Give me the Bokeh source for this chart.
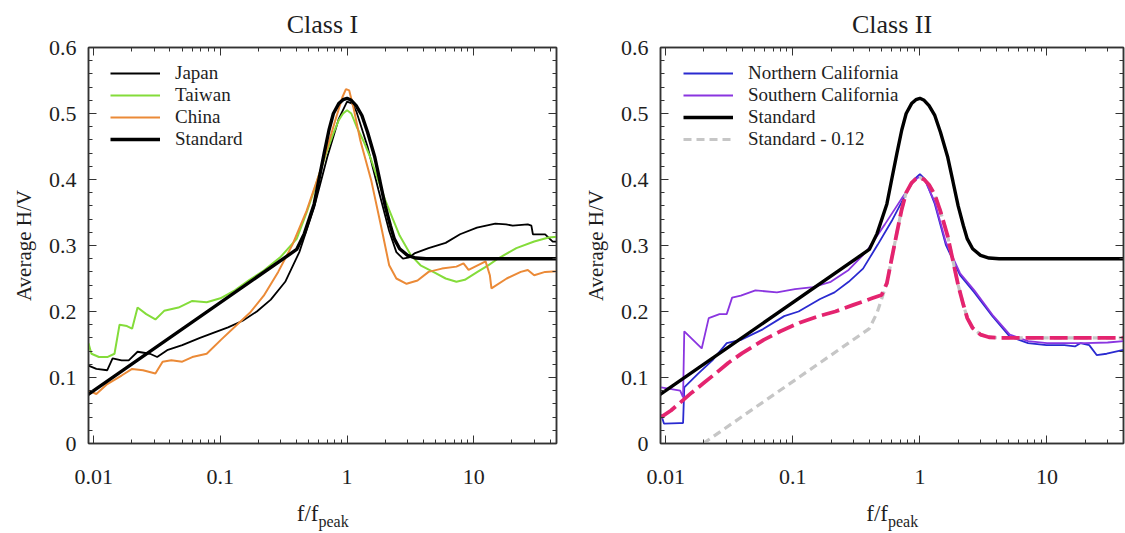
from bokeh.plotting import figure
from bokeh.models import (FixedTicker, CustomJSTickFormatter, LogAxis, LinearAxis,
                          Legend, LegendItem, Range1d, Label)
from bokeh.layouts import row, column
from bokeh.embed import file_html
from bokeh.resources import INLINE

# ---------------- data ----------------
titles = ["Class I", "Class II"]
x_ticks = [0.01, 0.1, 1, 10]
y_ticks = [0, 0.1, 0.2, 0.3, 0.4, 0.5, 0.6]

std_x = [0.009, 0.4, 0.46, 0.55, 0.6, 0.66, 0.72, 0.78, 0.86, 0.93, 1.0, 1.08, 1.18,
         1.31, 1.45, 1.65, 1.82, 2.0, 2.2, 2.36, 2.6, 3.0, 3.5, 4.2, 100]
std_y = [0.074, 0.294, 0.318, 0.363, 0.4, 0.44, 0.475, 0.5, 0.515, 0.521, 0.523, 0.52, 0.512,
         0.497, 0.472, 0.435, 0.397, 0.36, 0.33, 0.31, 0.295, 0.285, 0.281, 0.28, 0.28]

japan_x = [0.0091, 0.0105, 0.0128, 0.0141, 0.0166, 0.0189, 0.0222, 0.0278, 0.0317, 0.0385,
           0.05, 0.069, 0.089, 0.115, 0.15, 0.194, 0.25, 0.325, 0.42, 0.55, 0.7, 0.86, 1.0,
           1.1, 1.19, 1.45, 1.77, 2.15, 2.45, 2.76, 3.1, 3.4, 4.4, 6.0, 7.8, 10.6, 14.8, 18,
           20.3, 26.7, 28.5, 29.3, 36.6, 42, 100]
japan_y = [0.118, 0.113, 0.111, 0.129, 0.126, 0.126, 0.139, 0.136, 0.131, 0.142,
           0.149, 0.16, 0.168, 0.176, 0.186, 0.2, 0.218, 0.245, 0.29, 0.358, 0.435, 0.492, 0.518,
           0.515, 0.502, 0.45, 0.384, 0.322, 0.29, 0.28, 0.282, 0.288, 0.296, 0.304, 0.317, 0.327,
           0.333, 0.332, 0.33, 0.332, 0.33, 0.317, 0.317, 0.306, 0.303]

taiwan_x = [0.0091, 0.0096, 0.011, 0.0128, 0.0146, 0.016, 0.0183, 0.0201, 0.0222, 0.026,
            0.0307, 0.036, 0.0467, 0.06, 0.078, 0.1, 0.13, 0.17, 0.22, 0.3, 0.4, 0.48, 0.55,
            0.62, 0.7, 0.78, 0.86, 0.93, 1.0, 1.08, 1.19, 1.35, 1.55, 1.75, 1.99, 2.3, 2.6,
            3.2, 3.8, 5.0, 6.0, 7.3, 8.5, 10.7, 13, 15.8, 21.7, 30, 39, 100]
taiwan_y = [0.152, 0.136, 0.131, 0.131, 0.136, 0.18, 0.178, 0.174, 0.206, 0.196,
            0.188, 0.201, 0.206, 0.216, 0.214, 0.22, 0.232, 0.248, 0.262, 0.283, 0.31, 0.35,
            0.384, 0.415, 0.445, 0.47, 0.49, 0.5, 0.505, 0.5, 0.48, 0.458, 0.43, 0.4, 0.37,
            0.34, 0.315, 0.285, 0.27, 0.258, 0.25, 0.245, 0.248, 0.26, 0.27, 0.281, 0.296,
            0.306, 0.312, 0.32]

china_x = [0.0091, 0.0105, 0.0128, 0.0166, 0.0201, 0.0245, 0.0307, 0.035, 0.041, 0.05,
           0.06, 0.078, 0.101, 0.132, 0.171, 0.22, 0.286, 0.37, 0.48, 0.62, 0.8, 0.92, 0.98,
           1.04, 1.12, 1.27, 1.55, 1.89, 2.15, 2.45, 2.95, 3.6, 4.4, 5.6, 7.3, 8.3, 9.1, 12.4,
           13.4, 13.8, 18.2, 23.5, 26.7, 30, 36.6, 100]
china_y = [0.08, 0.075, 0.09, 0.103, 0.113, 0.111, 0.106, 0.124, 0.126, 0.124,
           0.131, 0.136, 0.157, 0.178, 0.198, 0.224, 0.26, 0.301, 0.353, 0.415, 0.487, 0.525,
           0.537, 0.535, 0.51, 0.46, 0.399, 0.322, 0.27, 0.25, 0.242, 0.247, 0.26, 0.265,
           0.268, 0.273, 0.263, 0.276, 0.255, 0.235, 0.25, 0.26, 0.263, 0.255, 0.26, 0.265]

ncal_x = [0.0092, 0.0097, 0.0128, 0.0137, 0.014, 0.018, 0.0233, 0.0302, 0.039, 0.058,
          0.0855, 0.111, 0.164, 0.213, 0.275, 0.357, 0.465, 0.6, 0.78, 0.9, 1.0, 1.1, 1.31,
          1.6, 2.07, 2.68, 3.72, 5.1, 7.1, 9.9, 13.7, 16.6, 18.3, 21.5, 24.6, 29.5, 40, 100]
ncal_y = [0.044, 0.03, 0.031, 0.031, 0.085, 0.106, 0.126, 0.152, 0.157, 0.173,
          0.193, 0.2, 0.219, 0.229, 0.245, 0.265, 0.301, 0.337, 0.379, 0.4, 0.408, 0.4, 0.363,
          0.301, 0.255, 0.229, 0.193, 0.162, 0.152, 0.149, 0.149, 0.147, 0.152, 0.149, 0.134,
          0.136, 0.142, 0.145]

scal_x = [0.0092, 0.013, 0.0137, 0.014, 0.0192, 0.0218, 0.0265, 0.0302, 0.0333, 0.039,
          0.0508, 0.075, 0.104, 0.144, 0.199, 0.275, 0.38, 0.53, 0.73, 0.9, 1.0, 1.1, 1.31,
          1.6, 2.07, 2.68, 3.72, 5.1, 7.1, 10, 20, 30, 40, 100]
scal_y = [0.085, 0.08, 0.07, 0.17, 0.144, 0.19, 0.196, 0.196, 0.221, 0.224,
          0.232, 0.229, 0.234, 0.237, 0.245, 0.263, 0.291, 0.332, 0.373, 0.398, 0.405, 0.398,
          0.366, 0.305, 0.258, 0.232, 0.195, 0.165, 0.155, 0.152, 0.152, 0.153, 0.155, 0.156]

std012_x = [0.0197, 0.4, 0.46, 0.55, 0.6, 0.66, 0.72, 0.78, 0.86, 0.93, 1.0, 1.08, 1.18,
            1.31, 1.45, 1.65, 1.82, 2.0, 2.2, 2.36, 2.6, 3.0, 3.5, 4.2, 100]
std012_y = [0.0, 0.174, 0.198, 0.243, 0.28, 0.32, 0.355, 0.38, 0.395, 0.401, 0.403, 0.4, 0.392,
            0.377, 0.352, 0.315, 0.277, 0.24, 0.21, 0.19, 0.175, 0.165, 0.161, 0.16, 0.16]

fit_x = [0.0092, 0.011, 0.013, 0.016, 0.02, 0.025, 0.031, 0.04, 0.059, 0.08, 0.113, 0.16,
         0.216, 0.3, 0.42, 0.5, 0.55, 0.6, 0.66, 0.72, 0.78, 0.86, 0.93, 1.0, 1.08, 1.18,
         1.31, 1.45, 1.65, 1.82, 2.0, 2.2, 2.36, 2.6, 3.0, 3.5, 4.2, 100]
fit_y = [0.04, 0.05, 0.062, 0.077, 0.092, 0.107, 0.122, 0.137, 0.157, 0.17, 0.183, 0.193,
         0.2, 0.21, 0.22, 0.225, 0.243, 0.28, 0.32, 0.355, 0.38, 0.395, 0.401, 0.403, 0.4, 0.392,
         0.377, 0.352, 0.315, 0.277, 0.24, 0.21, 0.19, 0.175, 0.165, 0.161, 0.16, 0.16]

# ---------------- styling ----------------
FONT = "Liberation Serif"
TXT = "#1e1e1e"
AX = "#333333"
TOP_H = 34        # strip holding the titles
MAIN_H = 466      # figure with the frame
BOT_H = 33        # strip holding the x-axis label
FRAME_TOP = 13    # inside MAIN figure
FRAME_H = 396


def make_fig(xr, width, bl, br):
    p = figure(width=width, height=MAIN_H, x_axis_type="log",
               x_range=Range1d(*xr), y_range=Range1d(0, 0.6), title=None,
               output_backend="svg", toolbar_location=None,
               min_border_left=bl, min_border_right=br,
               min_border_top=FRAME_TOP, min_border_bottom=MAIN_H - FRAME_TOP - FRAME_H)
    p.xgrid.visible = False
    p.ygrid.visible = False
    p.outline_line_color = AX
    p.outline_line_width = 1.5

    minor_x = [k * 10.0 ** e for e in range(-3, 2) for k in range(2, 10)]
    minor_y = [i * 0.02 for i in range(31)]
    fmt = CustomJSTickFormatter(code="return String(tick)")
    blank = CustomJSTickFormatter(code="return ''")

    xa = p.xaxis[0]
    xa.ticker = FixedTicker(ticks=x_ticks, minor_ticks=minor_x)
    xa.formatter = fmt
    ya = p.yaxis[0]
    ya.ticker = FixedTicker(ticks=y_ticks, minor_ticks=minor_y)
    ya.formatter = fmt
    ya.axis_label = "Average H/V"
    ya.axis_label_text_font = FONT
    ya.axis_label_text_font_size = "21px"
    ya.axis_label_text_font_style = "normal"
    ya.axis_label_text_color = TXT
    ya.axis_label_standoff = 10

    top = LogAxis(ticker=FixedTicker(ticks=x_ticks, minor_ticks=minor_x), formatter=blank)
    right = LinearAxis(ticker=FixedTicker(ticks=y_ticks, minor_ticks=minor_y), formatter=blank)
    for ax in (xa, ya, top, right):
        ax.major_tick_in = 8
        ax.major_tick_out = 0
        ax.minor_tick_in = 4
        ax.minor_tick_out = 0
        ax.axis_line_color = AX
        ax.axis_line_width = 1.5
        ax.major_tick_line_color = AX
        ax.minor_tick_line_color = AX
        ax.major_label_text_font = FONT
        ax.major_label_text_font_size = "22px"
        ax.major_label_text_color = TXT
    for ax in (top, right):
        ax.major_label_text_font_size = "0px"
        ax.major_label_standoff = 0
    xa.major_label_standoff = 26
    ya.major_label_standoff = 12
    p.add_layout(top, "above")
    p.add_layout(right, "right")
    return p


def add_legend(p, items, x_off):
    lg = Legend(items=items, location=(x_off, FRAME_H - 15 - 4 * 22), border_line_color=None,
                background_fill_alpha=0, padding=0, margin=0, spacing=0,
                glyph_width=50, glyph_height=22, label_height=22, label_standoff=15,
                label_text_font=FONT, label_text_font_size="19px", label_text_color=TXT)
    p.add_layout(lg)


def strip(width, height, labels):
    s = figure(width=width, height=height, x_range=Range1d(0, width), y_range=Range1d(0, height),
               title=None, output_backend="svg", toolbar_location=None, min_border=0,
               x_axis_location=None, y_axis_location=None, outline_line_color=None)
    s.xgrid.visible = False
    s.ygrid.visible = False
    for lab in labels:
        s.add_layout(lab)
    return s


def title_strip(width, cx, text):
    return strip(width, TOP_H, [Label(x=cx, y=10, text=text, text_font=FONT,
                                      text_font_size="26px", text_color=TXT,
                                      text_align="center", text_baseline="alphabetic")])


def xlabel_strip(width, split):
    return strip(width, BOT_H, [
        Label(x=split, y=20, text="f/f", text_font=FONT, text_font_size="23px",
              text_color=TXT, text_align="right", text_baseline="alphabetic"),
        Label(x=split, y=12, text="peak", text_font=FONT, text_font_size="16px",
              text_color=TXT, text_align="left", text_baseline="alphabetic")])


# ---------------- left panel ----------------
W1, BL1, BR1 = 572, 88, 16
p1 = make_fig((0.0091, 45), W1, BL1, BR1)
r_j = p1.line(japan_x, japan_y, color="black", line_width=1.8)
r_t = p1.line(taiwan_x, taiwan_y, color="#84dc3a", line_width=2)
r_c = p1.line(china_x, china_y, color="#eb8a37", line_width=2)
r_s = p1.line(std_x, std_y, color="black", line_width=3.4)
add_legend(p1, [LegendItem(label="Japan", renderers=[r_j]),
                LegendItem(label="Taiwan", renderers=[r_t]),
                LegendItem(label="China", renderers=[r_c]),
                LegendItem(label="Standard", renderers=[r_s])], 22)

# ---------------- right panel ----------------
W2, BL2, BR2 = 553, 88, 2
p2 = make_fig((0.0091, 40), W2, BL2, BR2)
r_n = p2.line(ncal_x, ncal_y, color="#2a2ad0", line_width=1.8)
r_so = p2.line(scal_x, scal_y, color="#8a35e0", line_width=1.8)
r_s2 = p2.line(std_x, std_y, color="black", line_width=3.4)
r_g = p2.line(std012_x, std012_y, color="#c6c6c6", line_width=3.2, line_dash="8 5")
r_f = p2.line(fit_x, fit_y, color="#e4246f", line_width=3.8, line_dash="18 6")
add_legend(p2, [LegendItem(label="Northern California", renderers=[r_n]),
                LegendItem(label="Southern California", renderers=[r_so]),
                LegendItem(label="Standard", renderers=[r_s2]),
                LegendItem(label="Standard - 0.12", renderers=[r_g])], 23)

c1 = BL1 + (W1 - BL1 - BR1) / 2
c2 = BL2 + (W2 - BL2 - BR2) / 2
t1, t2 = title_strip(W1, c1, titles[0]), title_strip(W2, c2, titles[1])
b1, b2 = xlabel_strip(W1, c1 - 4), xlabel_strip(W2, c2 - 4)

layout = column(row(t1, t2), row(p1, p2), row(b1, b2))
open("out.html", "w").write(file_html(layout, INLINE))
